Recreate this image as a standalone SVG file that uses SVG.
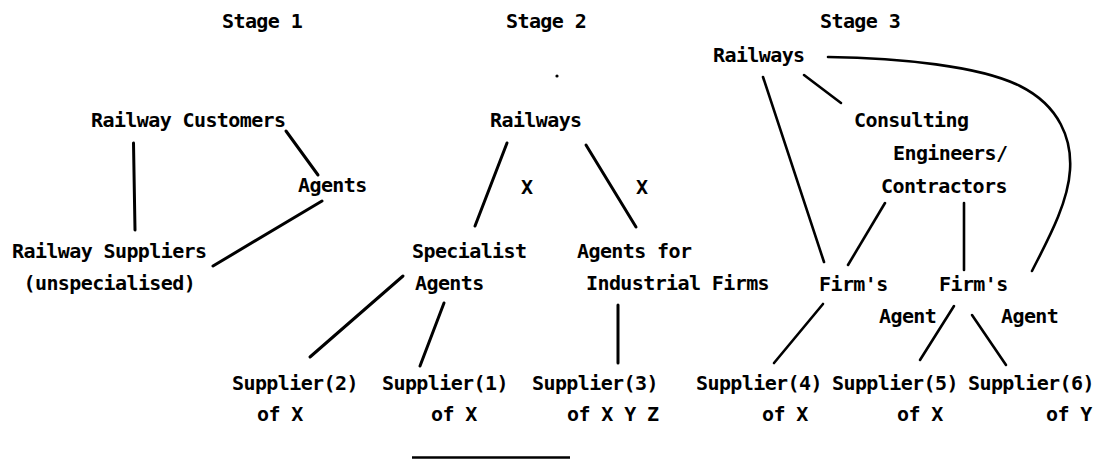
<svg xmlns="http://www.w3.org/2000/svg" width="1103" height="459" viewBox="0 0 1103 459">
<style>
text{font-family:"DejaVu Sans Mono","Liberation Mono",monospace;font-size:20px;letter-spacing:-0.6px;font-weight:bold;fill:#000}
.c line,.c path{stroke:#000;stroke-width:3;stroke-linecap:round;fill:none}
.c .thin{stroke-width:2.6}
</style>
<rect width="1103" height="459" fill="#fff"/>
<g id="headings">
<text x="222" y="28">Stage 1</text>
<text x="506" y="28">Stage 2</text>
<text x="820" y="28">Stage 3</text>
</g>
<g id="s1-customers"><text x="91" y="127">Railway Customers</text></g>
<g id="s1-agents"><text x="298" y="192">Agents</text></g>
<g id="s1-suppliers"><text x="12" y="258">Railway Suppliers</text><text x="23.5" y="290">(unspecialised)</text></g>
<g id="s2-railways"><text x="490" y="127">Railways</text></g>
<g id="s2-x-labels"><text x="521" y="194">X</text><text x="636" y="194">X</text></g>
<g id="s2-specialist"><text x="412" y="258">Specialist</text><text x="415" y="290">Agents</text></g>
<g id="s2-industrial"><text x="577" y="258">Agents for</text><text x="586" y="290">Industrial Firms</text></g>
<g id="s2-supplier2"><text x="232" y="390">Supplier(2)</text><text x="257" y="421">of X</text></g>
<g id="s2-supplier1"><text x="382" y="390">Supplier(1)</text><text x="431" y="421">of X</text></g>
<g id="s2-supplier3"><text x="532" y="390">Supplier(3)</text><text x="567" y="421">of X Y Z</text></g>
<g id="s3-railways"><text x="713" y="62">Railways</text></g>
<g id="s3-consulting"><text x="854" y="127">Consulting</text><text x="893" y="160">Engineers/</text><text x="881" y="193">Contractors</text></g>
<g id="s3-firm1"><text x="819" y="291">Firm's</text></g>
<g id="s3-firm2"><text x="939" y="291">Firm's</text><text x="879" y="323">Agent</text><text x="1001" y="323">Agent</text></g>
<g id="s3-supplier4"><text x="696" y="390">Supplier(4)</text><text x="762" y="421">of X</text></g>
<g id="s3-supplier5"><text x="832" y="390">Supplier(5)</text><text x="897" y="421">of X</text></g>
<g id="s3-supplier6"><text x="968" y="390">Supplier(6)</text><text x="1046" y="421">of Y</text></g>
<g id="connectors" class="c">
<line x1="133.5" y1="143" x2="135" y2="230"/>
<line x1="286" y1="131" x2="318" y2="175"/>
<line x1="322" y1="201" x2="213" y2="266"/>
<line x1="507" y1="143" x2="475" y2="226"/>
<line x1="586" y1="145" x2="636" y2="227"/>
<line x1="403" y1="276" x2="310" y2="357"/>
<line x1="444" y1="303" x2="420" y2="366"/>
<line x1="618" y1="305" x2="618" y2="363"/>
<line class="thin" x1="804" y1="75" x2="841" y2="103"/>
<line class="thin" x1="763" y1="77" x2="824" y2="262"/>
<line class="thin" x1="885" y1="203" x2="848" y2="265"/>
<line class="thin" x1="964" y1="203" x2="964" y2="270"/>
<path class="thin" d="M828,57 C900,58 980,66 1020,86 C1060,106 1072,140 1070,170 C1068,205 1045,245 1032,271"/>
<line class="thin" x1="823" y1="304" x2="774" y2="363"/>
<line class="thin" x1="954" y1="306" x2="920" y2="360"/>
<line class="thin" x1="972" y1="315" x2="1006" y2="365"/>
</g>
<circle cx="557" cy="76" r="1.6" fill="#000"/>
<line x1="412" y1="457.5" x2="570" y2="457.5" stroke="#000" stroke-width="2.5"/>
</svg>
